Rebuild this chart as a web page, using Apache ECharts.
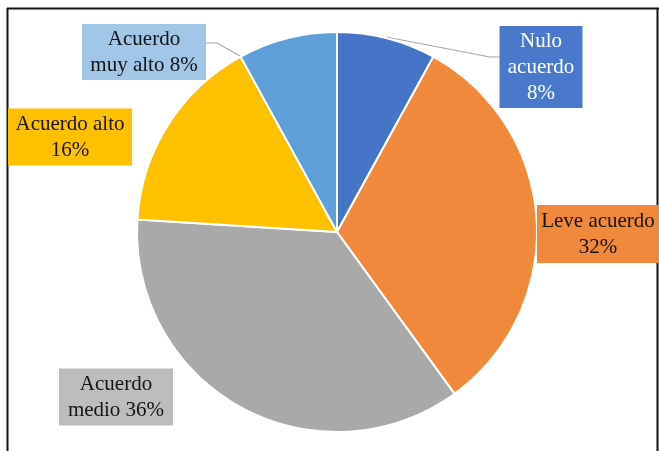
<!DOCTYPE html>
<html>
<head>
<meta charset="utf-8">
<style>
  html, body { margin: 0; padding: 0; background: #ffffff; }
  #chart { width: 659px; height: 451px; }
</style>
<script src="https://cdn.jsdelivr.net/npm/echarts@6/dist/echarts.min.js"></script>
</head>
<body>
<div id="chart"></div>
<script>
// Categories, label texts and percentages of the pie
const categories = ['Nulo acuerdo', 'Leve acuerdo', 'Acuerdo medio', 'Acuerdo alto', 'Acuerdo muy alto'];
const values = [8, 32, 36, 16, 8];
const labelTexts = ['Nulo\nacuerdo\n', 'Leve acuerdo\n', 'Acuerdo\nmedio ', 'Acuerdo alto\n', 'Acuerdo\nmuy alto '];
const sliceColors = ['#4675c8', '#f0893b', '#a9a9a9', '#ffc000', '#5f9fd9'];
const boxColors = ['#4a79cb', '#f0893b', '#bdbdbd', '#ffc000', '#a1c6e8'];
const textColors = ['#ffffff', '#141414', '#141414', '#141414', '#141414'];

// Label box placement (centre, size) and leader line style
const boxes = [
  { cx: 541, cy: 67, w: 83, h: 82 },
  { cx: 598, cy: 234, w: 122, h: 58 },
  { cx: 116, cy: 397, w: 114, h: 57 },
  { cx: 70, cy: 137, w: 124, h: 57 },
  { cx: 144, cy: 52, w: 124, h: 56 }
];
const leaderLines = {
  0: [[386, 37], [490, 57], [500, 57]],
  4: [[240, 56], [217, 43], [206, 43]]
};

const chart = echarts.init(document.getElementById('chart'), null, { renderer: 'canvas' });

const data = categories.map((name, i) => ({
  name: name,
  value: values[i],
  itemStyle: { color: sliceColors[i] },
  label: {
    color: textColors[i],
    backgroundColor: boxColors[i],
    width: boxes[i].w,
    height: boxes[i].h
  },
  labelLine: { show: i in leaderLines }
}));

chart.setOption({
  animation: false,
  backgroundColor: '#ffffff',
  graphic: [
    { type: 'line', shape: { x1: 7.5, y1: 8, x2: 7.5, y2: 451 }, style: { stroke: '#111', lineWidth: 2 } },
    { type: 'line', shape: { x1: 7, y1: 8.5, x2: 659, y2: 8.5 }, style: { stroke: '#111', lineWidth: 2 } },
    { type: 'line', shape: { x1: 657.5, y1: 8, x2: 657.5, y2: 451 }, style: { stroke: '#111', lineWidth: 2 } }
  ],
  series: [{
    type: 'pie',
    center: [337, 232],
    radius: 200,
    startAngle: 90,
    clockwise: true,
    data: data,
    itemStyle: { borderColor: '#ffffff', borderWidth: 2 },
    label: {
      show: true,
      position: 'outside',
      formatter: p => labelTexts[p.dataIndex] + p.value + '%',
      fontFamily: '"Liberation Serif", "DejaVu Serif", serif',
      fontSize: 21,
      lineHeight: 26,
      align: 'center',
      verticalAlign: 'middle',
      overflow: 'none',
      lineOverflow: 'none'
    },
    labelLine: {
      show: false,
      lineStyle: { color: '#a6a6a6', width: 1.2 }
    },
    labelLayout: function (params) {
      const b = boxes[params.dataIndex];
      const out = {
        x: b.cx,
        y: b.cy,
        align: 'center',
        verticalAlign: 'middle'
      };
      if (leaderLines[params.dataIndex]) {
        out.labelLinePoints = leaderLines[params.dataIndex];
      }
      return out;
    }
  }]
});
</script>
</body>
</html>
